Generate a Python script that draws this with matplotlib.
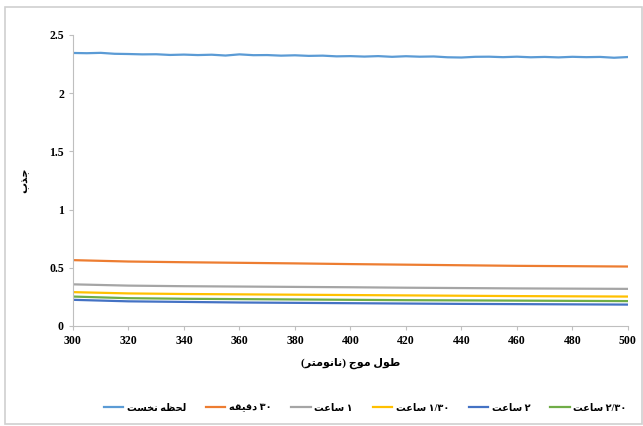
import matplotlib
matplotlib.use("Agg")
import matplotlib.pyplot as plt
from matplotlib.patches import Rectangle

plt.rcParams["font.family"] = ["Liberation Serif", "DejaVu Sans"]

# Persian labels, written as shaped presentation forms in visual (left-to-right) order
# so they render correctly without a bidi/shaping engine.
FA_SAAT = "\uFE96\uFECB\uFE8E\uFEB3"                       # ساعت
LABELS = [
    "\uFE96\uFEB4\uFEA8\uFEE7 \uFEEA\uFEC8\uFEA4\uFEDF",   # لحظه نخست
    "\uFEEA\uFED8\uFEF4\uFED7\uFEA9 \u06F3\u06F0",         # ۳۰ دقیقه
    FA_SAAT + " \u06F1",                                   # ۱ ساعت
    FA_SAAT + " \u06F1/\u06F3\u06F0",                      # ۱/۳۰ ساعت
    FA_SAAT + " \u06F2",                                   # ۲ ساعت
    FA_SAAT + " \u06F2/\u06F3\u06F0",                      # ۲/۳۰ ساعت
]
XLABEL = "(\uFEAE\uFE98\uFEE3\uFEEE\uFEE7\uFE8E\uFEE7) \uFE9D\uFEEE\uFEE3 \uFEDD\uFEEE\uFEC3"  # طول موج (نانومتر)
YLABEL = "\uFE8F\uFEAC\uFE9F"                               # جذب

COLORS = ["#5B9BD5", "#ED7D31", "#A5A5A5", "#FFC000", "#4472C4", "#70AD47"]

# wavelength (nm)
wl_fine = list(range(300, 501, 5))
wl = list(range(300, 501, 20))

absorb_t0 = [2.345, 2.343, 2.346, 2.338, 2.336, 2.333, 2.334, 2.328, 2.331, 2.327,
             2.330, 2.323, 2.333, 2.326, 2.327, 2.322, 2.325, 2.320, 2.322, 2.316,
             2.318, 2.314, 2.318, 2.312, 2.317, 2.313, 2.315, 2.308, 2.306, 2.312,
             2.313, 2.309, 2.313, 2.308, 2.311, 2.307, 2.312, 2.309, 2.311, 2.304,
             2.310]
absorb_30m = [0.565, 0.553, 0.547, 0.542, 0.537, 0.531, 0.526, 0.521, 0.516, 0.513, 0.510]
absorb_1h = [0.357, 0.346, 0.341, 0.338, 0.335, 0.332, 0.328, 0.325, 0.322, 0.320, 0.318]
absorb_1h30 = [0.290, 0.279, 0.274, 0.271, 0.268, 0.265, 0.262, 0.259, 0.256, 0.254, 0.252]
absorb_2h = [0.224, 0.211, 0.206, 0.201, 0.198, 0.195, 0.192, 0.189, 0.187, 0.185, 0.183]
absorb_2h30 = [0.252, 0.238, 0.233, 0.230, 0.227, 0.224, 0.221, 0.219, 0.217, 0.215, 0.213]

series = [
    (wl_fine, absorb_t0),
    (wl, absorb_30m),
    (wl, absorb_1h),
    (wl, absorb_1h30),
    (wl, absorb_2h),
    (wl, absorb_2h30),
]

fig = plt.figure(figsize=(6.43, 4.26), dpi=100)
ax = fig.add_axes([0.1135, 0.235, 0.863, 0.683])

for (x, y), color, label in zip(series, COLORS, LABELS):
    ax.plot(x, y, color=color, lw=1.6, label=label)

ax.set_xlim(300, 500)
ax.set_ylim(0, 2.5)
ax.set_xticks(wl)
ax.set_yticks([0, 0.5, 1, 1.5, 2, 2.5])
ax.set_yticklabels(["0", "0.5", "1", "1.5", "2", "2.5"])

for side in ("top", "right"):
    ax.spines[side].set_visible(False)
for side in ("left", "bottom"):
    ax.spines[side].set_color("#BFBFBF")
    ax.spines[side].set_linewidth(0.8)
ax.tick_params(colors="#BFBFBF", length=3, width=0.8, labelcolor="black", labelsize=8.5)
for t in ax.get_xticklabels() + ax.get_yticklabels():
    t.set_fontweight("bold")

ax.set_xlabel(XLABEL, fontsize=8, fontweight="bold", labelpad=8)
ax.set_ylabel(YLABEL, fontsize=8, fontweight="bold", labelpad=14)

leg = fig.legend(loc="center", bbox_to_anchor=(0.568, 0.042), ncol=6, frameon=False,
                 fontsize=7, handlelength=2.0, handletextpad=0.4, columnspacing=2.0)
for t in leg.get_texts():
    t.set_fontweight("bold")

# chart border
fig.patches.append(Rectangle((0.008, 0.004), 0.99, 0.98, transform=fig.transFigure,
                             fill=False, edgecolor="#D0D0D0", lw=1.2))

fig.savefig("out.png", dpi=100)
